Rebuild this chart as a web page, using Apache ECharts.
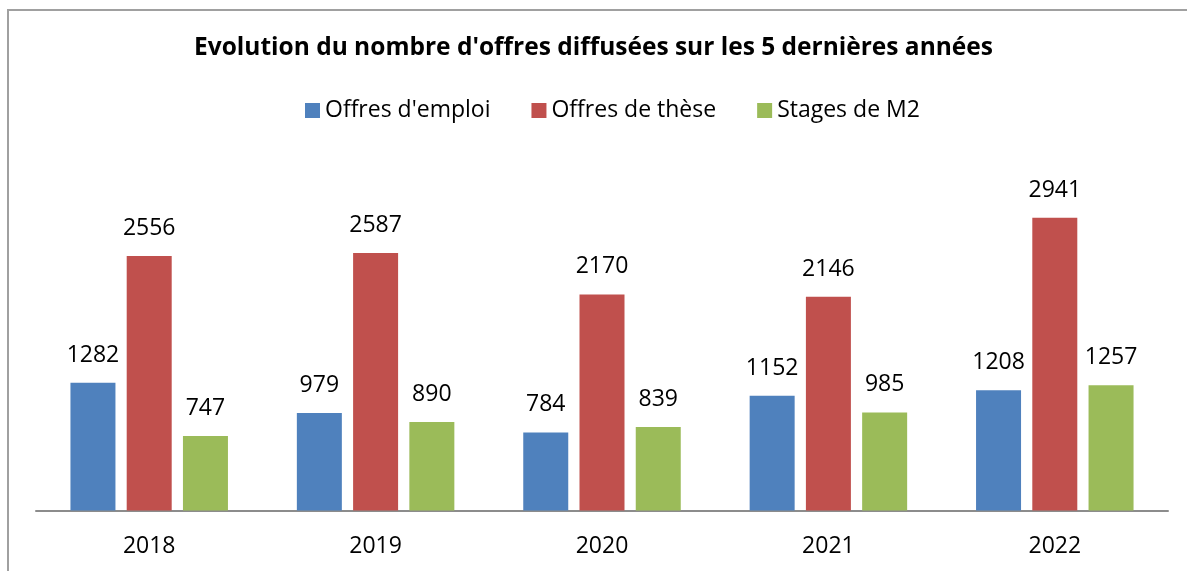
<!DOCTYPE html>
<html>
<head>
<meta charset="utf-8">
<script src="https://cdn.jsdelivr.net/npm/echarts@6/dist/echarts.min.js"></script>
<style>
  html, body { margin: 0; padding: 0; background: #fff; }
  #frame { position: absolute; left: 7px; top: 9px; width: 1200px; height: 600px; border: 2px solid #a0a0a0; box-sizing: border-box; }
  #chart { position: absolute; left: 0; top: 0; width: 1187px; height: 571px; }
</style>
</head>
<body>
<div id="frame"></div>
<div id="chart"></div>
<script>
var years = ['2018', '2019', '2020', '2021', '2022'];
var offresEmploi = [1282, 979, 784, 1152, 1208];
var offresThese = [2556, 2587, 2170, 2146, 2941];
var stagesM2 = [747, 890, 839, 985, 1257];

var font = "'Open Sans', 'Liberation Sans', sans-serif";

function makeSeries(name, data, color) {
  return {
    name: name,
    type: 'bar',
    barWidth: 45,
    barGap: '25%',
    itemStyle: { color: color },
    label: {
      show: true,
      position: 'top',
      distance: 16,
      color: '#000',
      fontFamily: font,
      fontSize: 23
    },
    data: data
  };
}

var myChart = echarts.init(document.getElementById('chart'));
myChart.setOption({
  backgroundColor: 'transparent',
  animation: false,
  title: {
    text: "Evolution du nombre d'offres diffusées sur les 5 dernières années",
    left: 'center',
    top: 31,
    textStyle: { fontFamily: font, fontSize: 24.5, fontWeight: 'bold', color: '#000' }
  },
  legend: {
    top: 94,
    left: 300,
    itemWidth: 15,
    itemHeight: 15,
    itemGap: 41,
    icon: 'rect',
    textStyle: { fontFamily: font, fontSize: 23, color: '#000' },
    data: ["Offres d'emploi", 'Offres de thèse', 'Stages de M2']
  },
  grid: { left: 36, right: 19, top: 162, bottom: 60.5 },
  xAxis: {
    type: 'category',
    data: years,
    axisLine: { lineStyle: { color: '#8c8c8c', width: 2 } },
    axisTick: { show: false },
    axisLabel: { fontFamily: font, fontSize: 23, color: '#000', margin: 24 }
  },
  yAxis: {
    type: 'value',
    min: 0,
    max: 3500,
    show: false,
    splitLine: { show: false }
  },
  series: [
    makeSeries("Offres d'emploi", offresEmploi, '#4f81bd'),
    makeSeries('Offres de thèse', offresThese, '#c0504d'),
    makeSeries('Stages de M2', stagesM2, '#9bbb59')
  ]
});
</script>
</body>
</html>
